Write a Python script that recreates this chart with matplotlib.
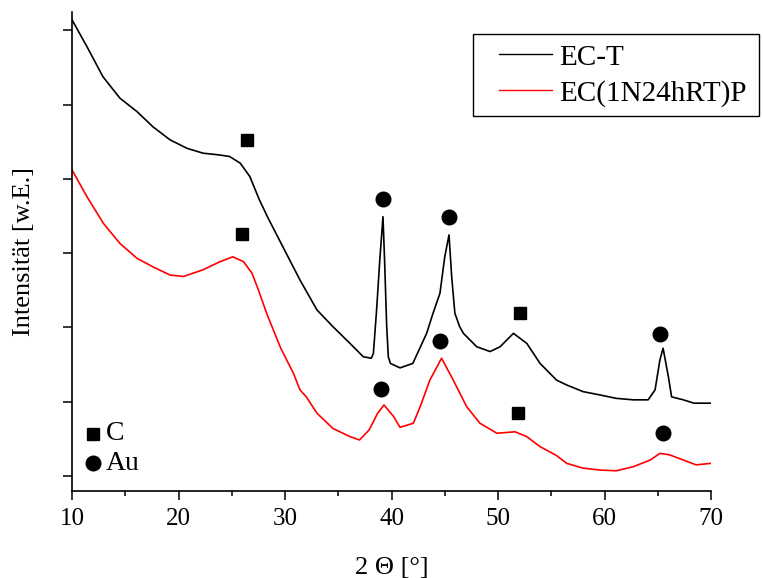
import numpy as np
import matplotlib.pyplot as plt
from matplotlib.patches import Rectangle
from matplotlib.ticker import MultipleLocator, NullFormatter

plt.rcParams['font.family'] = ['Liberation Serif', 'DejaVu Serif']

# EC-T (black)
ect_x = [10.0, 11.4, 12.9, 14.5, 16.1, 17.6, 19.2, 20.8, 22.3, 23.9, 24.8, 25.8, 26.7,
         27.6, 28.4, 29.8, 31.4, 33.0, 34.5, 36.1, 37.35, 38.1, 38.3, 38.6, 38.9, 39.2,
         39.35, 39.55, 39.7, 39.9, 40.8, 42.0, 43.3, 43.9, 44.55, 45.0, 45.4, 45.65,
         45.95, 46.4, 46.75, 48.0, 49.25, 50.2, 51.45, 52.7, 53.95, 55.5, 56.45, 58.0,
         59.6, 61.1, 62.7, 64.1, 64.75, 65.2, 65.5, 66.0, 66.3, 67.4, 68.4, 70.0]
ect_y = [6140, 5780, 5375, 5085, 4905, 4700, 4525, 4410, 4345, 4320, 4300, 4210, 4030,
         3715, 3475, 3085, 2640, 2235, 2010, 1785, 1605, 1585, 1650, 2235, 2905, 3490,
         2905, 2010, 1605, 1515, 1455, 1515, 1920, 2190, 2460, 2950, 3245, 2685,
         2190, 2010, 1920, 1740, 1675, 1740, 1920, 1785, 1515, 1290, 1225, 1135,
         1090, 1045, 1025, 1025, 1160, 1560, 1720, 1335, 1065, 1025, 980, 980]

# EC(1N24hRT)P (red)
ecp_x = [10.0, 11.4, 12.95, 14.5, 16.1, 17.6, 19.2, 20.45, 22.3, 23.9, 25.1, 26.1, 26.9,
         27.5, 28.3, 29.6, 30.8, 31.4, 32.0, 33.0, 34.5, 36.1, 37.0, 37.9, 38.7, 39.3,
         40.2, 40.8, 42.05, 42.7, 43.6, 44.7, 45.8, 47.05, 48.3, 49.9, 51.6, 52.7,
         53.95, 55.5, 56.45, 58.0, 59.6, 61.1, 62.7, 64.3, 65.2, 66.1, 67.4, 68.6, 70.0]
ecp_y = [4120, 3760, 3400, 3130, 2930, 2815, 2705, 2685, 2775, 2885, 2950, 2885, 2730,
         2505, 2180, 1720, 1380, 1160, 1065, 845, 640, 530, 485, 620, 845, 955,
         800, 655, 710, 935, 1290, 1585, 1290, 935, 710, 575, 595, 530,
         395, 275, 170, 105, 80, 70, 125, 215, 305, 285, 215, 150, 170]

# phase markers: C (square) and Au (circle)
ect_c_x = [26.4, 52.1]
ect_c_y = [4525, 2195]
ect_au_x = [39.2, 45.4, 65.2]
ect_au_y = [3730, 3485, 1910]
ecp_c_x = [25.95, 51.9]
ecp_c_y = [3255, 850]
ecp_au_x = [39.0, 44.6, 65.5]
ecp_au_y = [1170, 1815, 580]

fig = plt.figure(figsize=(7.63, 5.78), dpi=100)
ax = fig.add_axes([72 / 763, 87 / 578, 639 / 763, 479 / 578])

ax.plot(ect_x, ect_y, color='black', lw=1.2, label='EC-T')
ax.plot(ecp_x, ecp_y, color='red', lw=1.2, label='EC(1N24hRT)P')

ax.plot(ect_c_x + ecp_c_x, ect_c_y + ecp_c_y, 's', color='black', ms=9, ls='none')
ax.plot(ect_au_x + ecp_au_x, ect_au_y + ecp_au_y, 'o', color='black', ms=10.5, ls='none')

ax.set_xlim(10, 70)
ax.set_ylim(-202, 6245)
ax.xaxis.set_major_locator(MultipleLocator(10))
ax.xaxis.set_minor_locator(MultipleLocator(5))
ax.yaxis.set_major_locator(MultipleLocator(1000))
ax.yaxis.set_major_formatter(NullFormatter())

for s in ['top', 'right']:
    ax.spines[s].set_visible(False)
for s in ['left', 'bottom']:
    ax.spines[s].set_linewidth(1.2)
ax.tick_params(axis='both', which='major', direction='out', length=6.5, width=1.1, labelsize=18)
ax.tick_params(axis='x', which='minor', direction='out', length=3.5, width=1.1)
ax.tick_params(axis='x', pad=6)

ax.set_xlabel('2 Θ [°]', fontsize=19, labelpad=19)
ax.set_ylabel('Intensität [w.E.]', fontsize=19, labelpad=17)

# legend box drawn by hand so its padding matches the original
box = Rectangle((0.6275, 0.783), 0.447, 0.171, transform=ax.transAxes, clip_on=False,
                facecolor='white', edgecolor='black', lw=1.0, zorder=4)
ax.add_patch(box)
leg = ax.legend(loc='upper left', bbox_to_anchor=(0.6526, 0.954), fontsize=21,
                frameon=False, handlelength=1.8, handletextpad=0.25, borderpad=0.35,
                labelspacing=0.32, borderaxespad=0)
leg.set_zorder(5)
for h in leg.get_lines():
    h.set_linewidth(1.0)

# phase key in the lower left corner
ax.plot([0.033], [0.119], 's', color='black', ms=9, transform=ax.transAxes, clip_on=False)
ax.plot([0.033], [0.058], 'o', color='black', ms=10.5, transform=ax.transAxes, clip_on=False)
ax.text(0.053, 0.119, 'C', fontsize=20, va='center', ha='left', transform=ax.transAxes)
ax.text(0.053, 0.058, 'Au', fontsize=20, va='center', ha='left', transform=ax.transAxes)

fig.savefig('out.png', dpi=100)
